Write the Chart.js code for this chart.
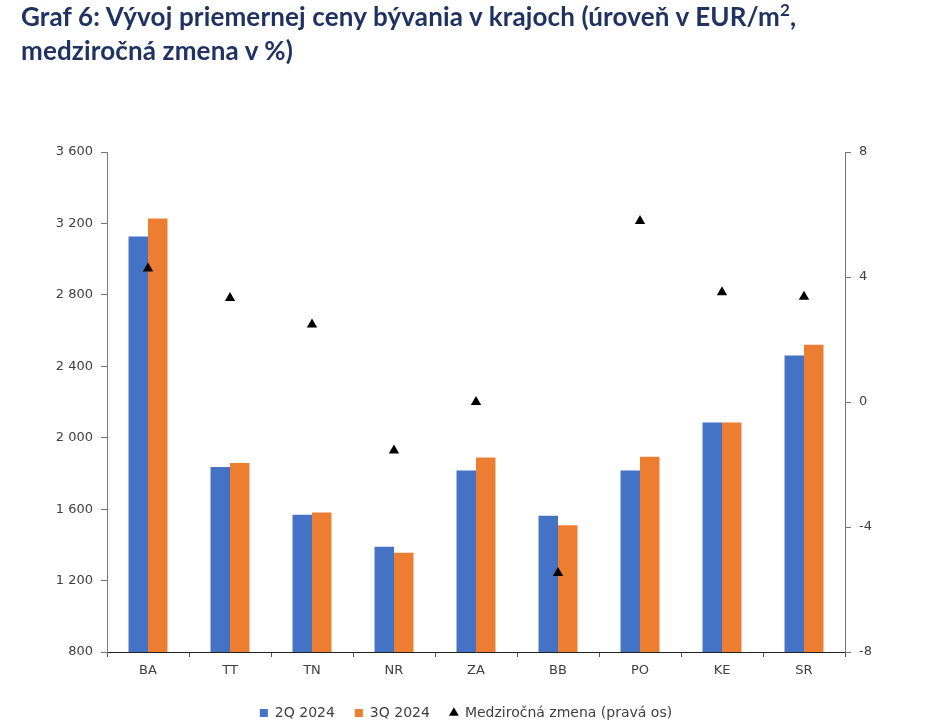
<!DOCTYPE html>
<html><head><meta charset="utf-8">
<script src="https://cdn.jsdelivr.net/npm/chart.js@4/dist/chart.umd.min.js"></script>
<style>
html,body{margin:0;padding:0;background:#fff;}
#wrap{position:relative;width:926px;height:720px;}
#title{position:absolute;left:21px;top:-1px;font-family:Lato,"Open Sans",sans-serif;font-weight:700;font-size:26px;line-height:34px;letter-spacing:0.15px;color:#1f3262;z-index:2;}
#title sup{font-size:17px;line-height:0;vertical-align:10px;}
canvas{position:absolute;left:0;top:0;}
</style></head>
<body>
<div id="wrap">
<div id="title">Graf 6: Vývoj priemernej ceny bývania v krajoch (úroveň v EUR/m<sup>2</sup>,<br>medziročná zmena v %)</div>
<canvas id="c" width="926" height="720"></canvas>
</div>
<script>
const categories = ["BA","TT","TN","NR","ZA","BB","PO","KE","SR"];
const q2_2024 = [3127,1836,1568,1390,1817,1563,1817,2085,2460];
const q3_2024 = [3227,1858,1581,1356,1889,1510,1894,2085,2520];
const yoyChange = [4.27,3.33,2.48,-1.55,0.0,-5.47,5.79,3.51,3.37];
const seriesNames = ["2Q 2024","3Q 2024","Medziročná zmena (pravá os)"];

const fmt = v => { const s = Math.abs(v).toString(); const r = s.replace(/\B(?=(\d{3})+(?!\d))/g, " "); return (v<0?"-":"")+r; };
const tickFont = {family:"DejaVu Sans", size:13};
const legendFont = {family:"DejaVu Sans", size:14};
const txt = "#404040";

new Chart(document.getElementById("c"), {
  data: {
    labels: categories,
    datasets: [
      {type:"line", label:seriesNames[2], data:yoyChange, yAxisID:"y1", showLine:false,
       pointStyle:"triangle", pointRadius:6, pointHoverRadius:6, backgroundColor:"#000", borderColor:"#000", borderWidth:0, order:0},
      {type:"bar", label:seriesNames[0], data:q2_2024, yAxisID:"y", backgroundColor:"#4472C4", pointStyle:"rect",
       categoryPercentage:0.475, barPercentage:1.0, order:1},
      {type:"bar", label:seriesNames[1], data:q3_2024, yAxisID:"y", backgroundColor:"#ED7D31", pointStyle:"rect",
       categoryPercentage:0.475, barPercentage:1.0, order:1}
    ]
  },
  options: {
    responsive:false, animation:false, devicePixelRatio:1,
    layout:{padding:{left:47, right:41, top:152, bottom:-10}},
    plugins:{
      tooltip:{enabled:false},
      legend:{position:"bottom",
        labels:{usePointStyle:true, boxWidth:8, boxHeight:8, padding:20, color:txt, font:legendFont,
          sort:(a,b)=>{const o=[1,2,0];return o.indexOf(a.datasetIndex)-o.indexOf(b.datasetIndex);} }}
    },
    scales:{
      x:{offset:true, grid:{offset:true, drawOnChartArea:false, drawTicks:true, tickLength:5, color:"#555", lineWidth:1},
         border:{color:"#222", width:1},
         ticks:{color:txt, font:tickFont, padding:6, maxRotation:0},
         afterFit:s=>{s.height=34;}},
      y:{position:"left", min:800, max:3600, grid:{drawOnChartArea:false, drawTicks:true, tickLength:6, color:"#777"},
         border:{color:"#777", width:1},
         ticks:{stepSize:400, color:txt, font:tickFont, padding:8, callback:v=>fmt(v)},
         afterFit:s=>{s.width=60;}},
      y1:{position:"right", min:-8, max:8, grid:{drawOnChartArea:false, drawTicks:true, tickLength:6, color:"#777"},
         border:{color:"#777", width:1},
         ticks:{stepSize:4, color:txt, font:tickFont, padding:8, callback:v=>fmt(v)},
         afterFit:s=>{s.width=40;}}
    }
  }
});
</script>
</body></html>
